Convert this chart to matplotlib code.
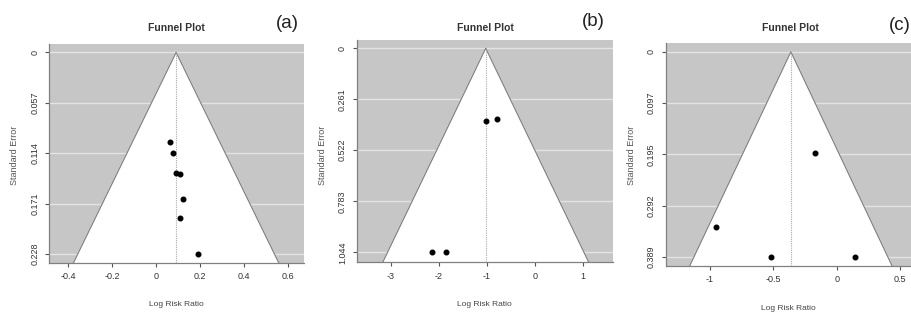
import matplotlib
matplotlib.use("Agg")
import matplotlib.pyplot as plt

plt.rcParams['font.family'] = ['Liberation Sans', 'DejaVu Sans']

# study estimates (log risk ratio) and standard errors
a_lrr = [0.062, 0.074, 0.088, 0.108, 0.123, 0.108, 0.191]
a_se = [0.101, 0.114, 0.136, 0.138, 0.166, 0.187, 0.228]
b_lrr = [-1.02, -0.785, -2.13, -1.85]
b_se = [0.370, 0.362, 1.044, 1.044]
c_lrr = [-0.17, -0.947, -0.514, 0.147]
c_se = [0.192, 0.333, 0.389, 0.389]

# pooled estimates (apex of funnel)
centers = [0.09, -1.02, -0.36]

a_yticks = [0, 0.057, 0.114, 0.171, 0.228]
b_yticks = [0, 0.261, 0.522, 0.783, 1.044]
c_yticks = [0, 0.097, 0.195, 0.292, 0.389]
a_xticks = [-0.4, -0.2, 0, 0.2, 0.4, 0.6]
b_xticks = [-3, -2, -1, 0, 1]
c_xticks = [-1, -0.5, 0, 0.5]

panels = [
    dict(lrr=a_lrr, se=a_se, c=centers[0], yt=a_yticks, xt=a_xticks,
         xl=(-0.486, 0.671), yl=(0.2376, -0.0094), tag="(a)",
         pos=(49.3, 44, 304, 262.5), title_x=176, tag_x=287, tag_y=23,
         ylab_x=15, xlab_y=305),
    dict(lrr=b_lrr, se=b_se, c=centers[1], yt=b_yticks, xt=b_xticks,
         xl=(-3.708, 1.631), yl=(1.0937, -0.042), tag="(b)",
         pos=(356.7, 40, 613, 262), title_x=485, tag_x=593, tag_y=22,
         ylab_x=322.7, xlab_y=305),
    dict(lrr=c_lrr, se=c_se, c=centers[2], yt=c_yticks, xt=c_xticks,
         xl=(-1.345, 0.593), yl=(0.406, -0.0171), tag="(c)",
         pos=(665.7, 42.7, 912, 265.7), title_x=790.7, tag_x=900, tag_y=25,
         ylab_x=631.7, xlab_y=309),
]

W, H = 912, 313
fig = plt.figure(figsize=(W / 100, H / 100), dpi=100)

def fmt(v):
    if v == 0:
        return "0"
    return "%g" % v

for p in panels:
    x0, y0, x1, y1 = p["pos"]
    ax = fig.add_axes([x0 / W, 1 - y1 / H, (x1 - x0) / W, (y1 - y0) / H])
    ax.set_facecolor("#c6c6c6")
    sebot = p["yl"][0]
    c = p["c"]
    # light lines at the SE ticks, hidden by the white funnel
    for t in p["yt"]:
        ax.axhline(t, color="#e4e4e4", lw=1.0, zorder=0.5)
    ax.fill([c - 1.96 * sebot, c, c + 1.96 * sebot], [sebot, 0, sebot],
            color="white", zorder=1)
    ax.plot([c - 1.96 * sebot, c, c + 1.96 * sebot], [sebot, 0, sebot],
            color="#808080", lw=0.9, zorder=3)
    ax.plot([c, c], [sebot, 0], color="#aaaaaa", lw=0.8, ls=(0, (1, 1)), zorder=3)
    ax.plot(p["lrr"], p["se"], "o", color="black", ms=3.3, zorder=4)
    ax.set_xlim(p["xl"])
    ax.set_ylim(p["yl"])
    for s in ["top", "right"]:
        ax.spines[s].set_visible(False)
    for s in ["left", "bottom"]:
        ax.spines[s].set_color("#808080")
        ax.spines[s].set_linewidth(0.9)
    ax.set_yticks(p["yt"])
    ax.set_yticklabels([fmt(t) for t in p["yt"]], rotation=90, va="center")
    ax.set_xticks(p["xt"])
    ax.set_xticklabels([fmt(t) for t in p["xt"]])
    ax.tick_params(axis="both", colors="#555555", labelcolor="#333333",
                   labelsize=6.5, length=3, width=0.8, pad=4)
    fig.text(p["title_x"] / W, 1 - 28 / H, "Funnel Plot", ha="center",
             va="center", fontsize=7.5, fontweight="bold", color="#333333")
    fig.text(p["tag_x"] / W, 1 - p["tag_y"] / H, p["tag"], ha="center",
             va="center", fontsize=13.5, color="#222222")
    fig.text(p["ylab_x"] / W, 1 - 155 / H, "Standard Error", rotation=90,
             ha="center", va="center", fontsize=6.5, color="#555555")
    fig.text((x0 + x1) / 2 / W, 1 - p["xlab_y"] / H, "Log Risk Ratio",
             ha="center", va="center", fontsize=6, color="#444444")

fig.savefig("out.png", dpi=100)
